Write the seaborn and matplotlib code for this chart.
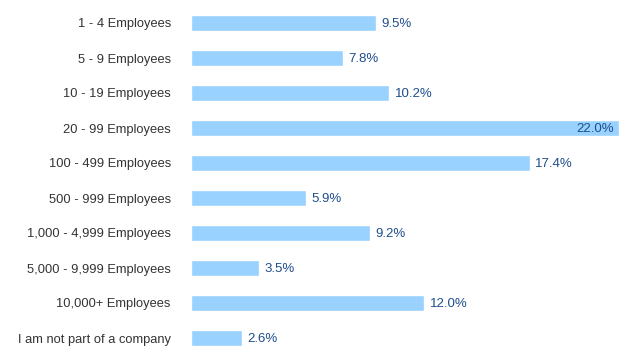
import numpy as np
import pandas as pd
import seaborn as sns
import matplotlib.pyplot as plt

categories = ["1 - 4 Employees", "5 - 9 Employees", "10 - 19 Employees",
              "20 - 99 Employees", "100 - 499 Employees", "500 - 999 Employees",
              "1,000 - 4,999 Employees", "5,000 - 9,999 Employees",
              "10,000+ Employees", "I am not part of a company"]
values = [9.5, 7.8, 10.2, 22.0, 17.4, 5.9, 9.2, 3.5, 12.0, 2.6]

df = pd.DataFrame({"size": categories, "pct": values})

sns.set_style("white")
plt.rcParams["font.family"] = ["Liberation Sans", "DejaVu Sans"]

W, H = 633, 359
fig = plt.figure(figsize=(W / 100, H / 100), dpi=100)
ax = fig.add_axes([191 / W, 3.5 / H, 428 / W, 350 / H])

sns.barplot(data=df, x="pct", y="size", orient="h", color="#99D1FF",
            saturation=1, width=0.46, ax=ax)

ax.set_xlim(0, 22)
ax.set_ylim(9.5, -0.5)
ax.set_xlabel("")
ax.set_ylabel("")
ax.set_xticks([])
ax.tick_params(axis="y", length=0, pad=14.5, labelsize=9.3, labelcolor="#333333")
for s in ax.spines.values():
    s.set_visible(False)

for i, v in enumerate(values):
    if v >= max(values):
        ax.annotate(f"{v:.1f}%", (v, i), xytext=(-3.5, -0.5), textcoords="offset points",
                    ha="right", va="center", fontsize=9.5, color="#1F4E8C")
    else:
        ax.annotate(f"{v:.1f}%", (v, i), xytext=(4, -0.5), textcoords="offset points",
                    ha="left", va="center", fontsize=9.5, color="#1F4E8C")

fig.savefig("out.png", dpi=100)
